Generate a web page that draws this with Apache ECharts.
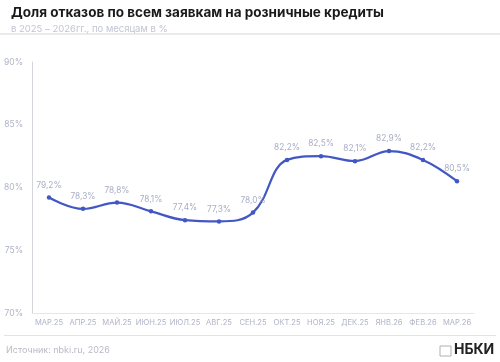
<!DOCTYPE html>
<html><head><meta charset="utf-8">
<script src="https://cdn.jsdelivr.net/npm/echarts@6/dist/echarts.min.js"></script>
<style>html,body{margin:0;padding:0;background:#fff}#c{width:500px;height:362px}</style>
</head><body><div id="c"></div>
<script>
const categories = ['МАР.25','АПР.25','МАЙ.25','ИЮН.25','ИЮЛ.25','АВГ.25','СЕН.25','ОКТ.25','НОЯ.25','ДЕК.25','ЯНВ.26','ФЕВ.26','МАР.26'];
const values = [79.2, 78.3, 78.8, 78.1, 77.4, 77.3, 78.0, 82.2, 82.5, 82.1, 82.9, 82.2, 80.5];
const yTicks = [70, 75, 80, 85, 90];

const chart = echarts.init(document.getElementById('c'));
const F = 'Inter, "Noto Sans", sans-serif';
chart.setOption({
  animation: false,
  title: {
    text: 'Доля отказов по всем заявкам на розничные кредиты',
    subtext: 'в 2025 – 2026гг., по месяцам в %',
    left: 6, top: 1, itemGap: 4,
    textStyle: {fontFamily: F, fontSize: 13.5, fontWeight: 'bold', color: '#1a1a1a'},
    subtextStyle: {fontFamily: F, fontSize: 9.5, color: '#c2c5d3'}
  },
  grid: {left: 32, right: 26, top: 62, bottom: 49},
  xAxis: {
    type: 'category', data: categories, boundaryGap: true,
    axisLine: {lineStyle: {color: '#e6e6ea'}},
    axisTick: {show: false},
    axisLabel: {fontFamily: F, fontSize: 7.6, color: '#b0b4c6', margin: 6, interval: 0}
  },
  yAxis: {
    type: 'value', min: yTicks[0], max: yTicks[yTicks.length-1], interval: 5,
    axisLine: {show: true, lineStyle: {color: '#d4d4da'}},
    axisTick: {show: false},
    splitLine: {show: false},
    axisLabel: {fontFamily: F, fontSize: 8.5, color: '#b0b4c6', margin: 9, formatter: v => v + '%'}
  },
  series: [{
    type: 'line', data: values, smooth: 0.4,
    symbol: 'circle', symbolSize: 4.5,
    lineStyle: {color: '#4257c4', width: 2.2},
    itemStyle: {color: '#4257c4'},
    label: {show: true, position: 'top', distance: 6, fontFamily: F, fontSize: 8.3, color: '#a9aec6',
      formatter: p => p.value.toFixed(1).replace('.', ',') + '%'}
  }],
  graphic: [
    {type: 'rect', shape: {x: 0, y: 33, width: 500, height: 2}, style: {fill: '#ebebeb'}},
    {type: 'rect', shape: {x: 4, y: 335, width: 492, height: 1}, style: {fill: '#e3e3e3'}},
    {type: 'text', left: 6, top: 346, style: {text: 'Источник: nbki.ru, 2026', fontFamily: F, fontSize: 9, fill: '#b8bbc6'}},
    {type: 'rect', shape: {x: 440, y: 346, width: 11, height: 10}, style: {fill: 'none', stroke: '#b0b0b0', lineWidth: 1}},
    {type: 'text', left: 454, top: 343, style: {text: 'НБКИ', fontFamily: F, fontSize: 14, fontWeight: 'bold', fill: '#222'}}
  ]
});
</script></body></html>
